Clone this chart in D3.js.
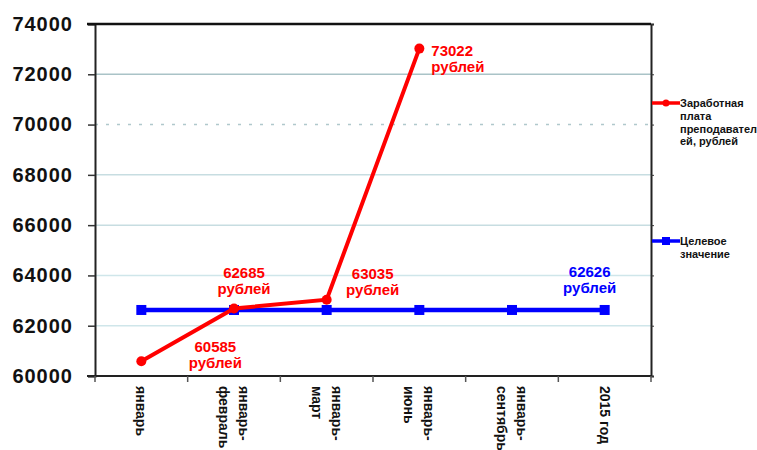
<!DOCTYPE html>
<html><head><meta charset="utf-8">
<script src="https://cdn.jsdelivr.net/npm/d3@7"></script>
<style>
body{margin:0;background:#fff;}
text{font-family:"Liberation Sans",Arial,sans-serif;font-weight:bold;}
</style></head>
<body><svg id="c" width="757" height="450"></svg>
<script>
const categories = ["январь", "январь-февраль", "январь-март", "январь-июнь", "январь-сентябрь", "2015 год"];
const categoryLines = [["январь"], ["январь-", "февраль"], ["январь-", "март"], ["январь-", "июнь"], ["январь-", "сентябрь"], ["2015 год"]];
const salary = [60585, 62685, 63035, 73022];
const target = [62626, 62626, 62626, 62626, 62626, 62626];
const yTicks = [60000, 62000, 64000, 66000, 68000, 70000, 72000, 74000];
const seriesNames = [["Заработная", "плата", "преподавател", "ей, рублей"], ["Целевое", "значение"]];
const unit = "рублей";
const unitTarget = "рублей";

// layout (not data)
const redLabelOffsets = [[74, -9, "middle"], [10, -30, "middle"], [46, -21, "middle"], [12, 7, "start"]];
const blueLabelOffset = [-15, -33];

const svg = d3.select("#c");
const L = 95, R = 651, T = 24, B = 376;
const x = d3.scalePoint().domain(categories).range([L, R]).padding(0.5);
const y = d3.scaleLinear().domain([60000, 74000]).range([B, T]);

// gridlines
const gridCol = {62000:"#cfe6ea",64000:"#cfe6ea",66000:"#c7dde1",68000:"#c7dde1",70000:"#b0c8cc",72000:"#aac3c7"};
yTicks.filter(v => v > 60000 && v < 74000).forEach(v => {
  svg.append("line").attr("x1", L).attr("x2", R).attr("y1", y(v)).attr("y2", y(v))
    .attr("stroke", gridCol[v]).attr("stroke-width", 1.5)
    .attr("stroke-dasharray", v === 70000 ? "3,8" : null);
});

// y axis
const yAxis = d3.axisLeft(y).tickValues(yTicks).tickSize(7).tickPadding(15).tickFormat(d3.format("d"));
const ya = svg.append("g").attr("transform", `translate(${L},0)`).call(yAxis);
ya.select(".domain").attr("stroke", "#222").attr("stroke-width", 2);
ya.selectAll(".tick line").attr("stroke", "#333").attr("stroke-width", 1.5);
ya.selectAll(".tick text").attr("font-size", 20).attr("fill", "#111").style("letter-spacing", "1px")
  .style("font-family", '"Liberation Sans",Arial,sans-serif').style("font-weight", "bold");

// right axis ticks
const ra = svg.append("g").attr("transform", `translate(${R},0)`).call(d3.axisRight(y).tickValues(yTicks).tickSize(3).tickFormat(""));
ra.select(".domain").attr("stroke", "#222").attr("stroke-width", 2);
ra.selectAll(".tick line").attr("stroke", "#333");

// top border
svg.append("line").attr("x1", L - 8).attr("x2", R).attr("y1", T).attr("y2", T).attr("stroke", "#111").attr("stroke-width", 2.5);

// x axis
const step = x.step();
const xb = svg.append("g").attr("transform", `translate(0,${B})`);
xb.append("line").attr("x1", L - 8).attr("x2", R).attr("stroke", "#222").attr("stroke-width", 2);
d3.range(categories.length + 1).forEach(i => {
  xb.append("line").attr("x1", L + i * step).attr("x2", L + i * step).attr("y1", 0).attr("y2", 6)
    .attr("stroke", "#555").attr("stroke-width", 1.5);
});
categories.forEach((c, i) => {
  const lines = categoryLines[i];
  const cx = x(c);
  lines.forEach((t, j) => {
    const off = (lines.length - 1) * 10 - j * 20;
    svg.append("text").attr("transform", `translate(${cx + off - 5},${B + 10}) rotate(90)`)
      .attr("font-size", 14).attr("fill", "#111").attr("text-anchor", "start").text(t);
  });
});

// lines
const line = d3.line().x((d, i) => x(categories[i])).y(d => y(d));
svg.append("path").datum(target).attr("d", line).attr("fill", "none").attr("stroke", "#0000ff").attr("stroke-width", 4.5);
svg.selectAll(".sq").data(target).enter().append("rect")
  .attr("x", (d, i) => x(categories[i]) - 5).attr("y", d => y(d) - 5).attr("width", 10).attr("height", 10).attr("fill", "#0000ff");
svg.append("path").datum(salary).attr("d", line).attr("fill", "none").attr("stroke", "#ff0000").attr("stroke-width", 4);
svg.selectAll(".ci").data(salary).enter().append("circle")
  .attr("cx", (d, i) => x(categories[i])).attr("cy", d => y(d)).attr("r", 5).attr("fill", "#ff0000");

// data labels
salary.forEach((v, i) => {
  const [dx, dy, anc] = redLabelOffsets[i];
  const tx = x(categories[i]) + dx, ty = y(v) + dy;
  const t = svg.append("text").attr("x", tx).attr("y", ty).attr("text-anchor", anc).attr("font-size", 15).attr("fill", "#ff0000");
  t.append("tspan").attr("x", tx).text(v);
  t.append("tspan").attr("x", tx).attr("dy", 16).text(unit);
});
{
  const i = target.length - 1;
  const tx = x(categories[i]) + blueLabelOffset[0], ty = y(target[i]) + blueLabelOffset[1];
  const t = svg.append("text").attr("x", tx).attr("y", ty).attr("text-anchor", "middle").attr("font-size", 15).attr("fill", "#0000ff");
  t.append("tspan").attr("x", tx).text(target[i]);
  t.append("tspan").attr("x", tx).attr("dy", 16).text(unitTarget);
}

// legend
const legY = [103, 241];
const legCol = ["#ff0000", "#0000ff"];
seriesNames.forEach((names, k) => {
  const g = svg.append("g");
  g.append("line").attr("x1", R + 1).attr("x2", R + 29).attr("y1", legY[k]).attr("y2", legY[k]).attr("stroke", legCol[k]).attr("stroke-width", 3.5);
  if (k === 0) g.append("circle").attr("cx", R + 15).attr("cy", legY[k]).attr("r", 3.5).attr("fill", legCol[k]);
  else g.append("rect").attr("x", R + 11).attr("y", legY[k] - 4).attr("width", 8).attr("height", 8).attr("fill", legCol[k]);
  names.forEach((n, j) => {
    g.append("text").attr("x", R + 29).attr("y", legY[k] + 4 + j * 12.8).attr("font-size", 11).attr("fill", "#111").text(n);
  });
});
</script></body></html>
